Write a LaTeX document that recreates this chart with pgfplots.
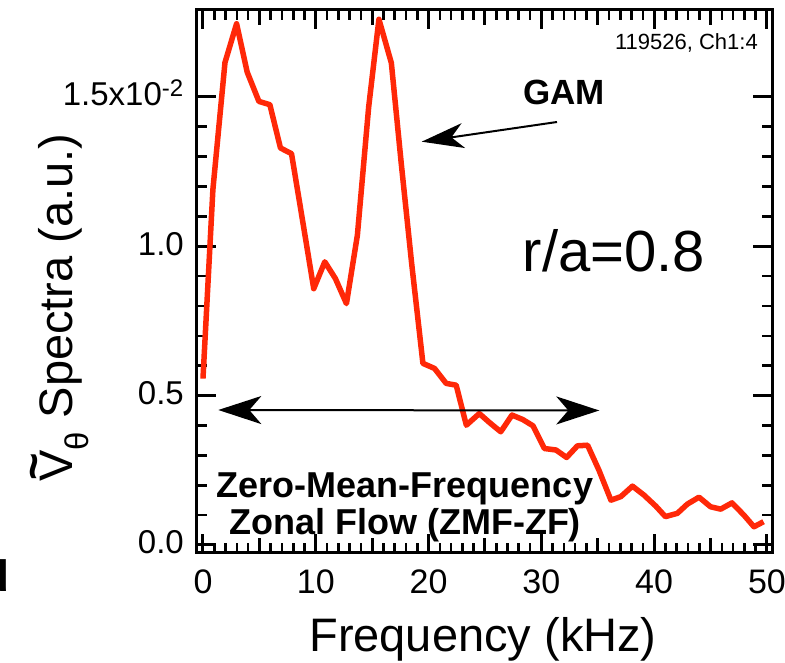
\documentclass[border=0pt]{standalone}
\usepackage{fontspec}
\setmainfont{Liberation Sans}
\usepackage{pgfplots}
\pgfplotsset{compat=1.18}
\usetikzlibrary{arrows.meta}
\definecolor{curvered}{RGB}{255,40,8}
\begin{document}
\begin{tikzpicture}
\path[use as bounding box] (-197pt,-110pt) rectangle (588pt,553pt);
\begin{axis}[
  at={(0pt,0pt)}, anchor=south west,
  scale only axis, width=575pt, height=543pt,
  xmin=-0.53, xmax=50.45, ymin=-0.0268, ymax=1.791,
  axis line style={line width=3pt},
  xtick={0,10,20,30,40,50},
  xticklabels={0,10,20,30,40,50},
  ytick={0,0.5,1.0,1.5},
  yticklabels={0.0,0.5,1.0,1.5x10\textsuperscript{\fontsize{24}{26}\selectfont -2}},
  minor x tick num=9, minor y tick num=4,
  xtick pos=both, ytick pos=both,
  xticklabel pos=lower, yticklabel pos=left,
  tick align=inside,
  major tick length=19pt, minor tick length=10pt,
  major tick style={line width=3pt, black},
  minor tick style={line width=2.6pt, black},
  extra x ticks={5,15,25,35,45},
  extra x tick labels={},
  extra x tick style={major tick length=15pt},
  xticklabel style={font=\fontsize{34}{36}\selectfont, anchor=north, inner sep=0pt, yshift=-17pt},
  yticklabel style={font=\fontsize{33}{35}\selectfont, anchor=base east, inner sep=0pt, xshift=-13pt, yshift=-9pt},
]
\addplot[color=curvered, line width=5.5pt, line join=round] coordinates {
(0.00,0.557) (0.88,1.19) (1.95,1.615) (2.98,1.745) (3.92,1.583) (4.96,1.485)
(5.93,1.474) (6.87,1.329) (7.85,1.31) (8.84,1.084) (9.82,0.858) (10.80,0.948)
(11.74,0.892) (12.72,0.808) (13.69,1.037) (14.69,1.466) (15.60,1.76) (16.70,1.614)
(17.58,1.277) (18.50,0.943) (19.50,0.608) (20.53,0.591) (21.56,0.541) (22.45,0.535)
(23.35,0.401) (24.50,0.44) (25.40,0.41) (26.40,0.379) (27.40,0.435) (28.35,0.42)
(29.26,0.399) (30.27,0.323) (31.30,0.318) (32.24,0.293) (33.20,0.332) (34.10,0.334)
(35.10,0.251) (36.17,0.150) (37.05,0.162) (38.08,0.197) (39.10,0.167) (40.15,0.130)
(41.00,0.095) (42.06,0.106) (42.95,0.137) (43.98,0.160) (45.00,0.128) (45.90,0.120)
(46.90,0.141) (47.96,0.100) (48.85,0.061) (49.70,0.078)
};
\end{axis}
% axis labels
\node[anchor=base, inner sep=0pt, font=\fontsize{47}{50}\selectfont] at (286pt,-99pt) {Frequency (kHz)};
\node[anchor=base, rotate=90, inner sep=0pt, font=\fontsize{47}{50}\selectfont] at (-124pt,245.5pt)
  {\rlap{\hspace{0.03em}\raisebox{0.5em}{\bfseries\char126}}V\textsubscript{θ} Spectra (a.u.)};
% annotations
\node[anchor=base, inner sep=0pt, font=\fontsize{58}{60}\selectfont] at (417pt,281pt) {r/a=0.8};
\node[anchor=base, inner sep=0pt, font=\bfseries\fontsize{35}{38}\selectfont] at (367pt,448pt) {GAM};
\node[anchor=base east, inner sep=0pt, font=\fontsize{22}{24}\selectfont] at (561pt,503pt) {119526, Ch1:4};
\node[anchor=base, inner sep=0pt, font=\bfseries\fontsize{36}{38}\selectfont] at (208pt,55pt) {Zero-Mean-Frequency};
\node[anchor=base, inner sep=0pt, font=\bfseries\fontsize{36}{38}\selectfont] at (208pt,18pt) {Zonal Flow (ZMF-ZF)};
\node[anchor=base east, inner sep=0pt, font=\bfseries\fontsize{44}{46}\selectfont] at (-187pt,-39pt) {d};
% arrows
\draw[line width=2pt, -{Stealth[length=42pt, width=25pt, inset=12pt]}] (360pt,431pt) -- (224.7pt,411.3pt);
\draw[line width=2pt, {Stealth[length=43pt, width=28pt, inset=12pt]}-{Stealth[length=43pt, width=28pt, inset=12pt]}] (21.3pt,143pt) -- (402.3pt,142.5pt);
\end{tikzpicture}
\end{document}
